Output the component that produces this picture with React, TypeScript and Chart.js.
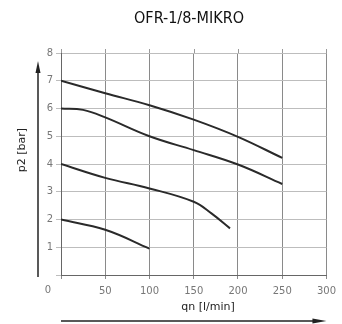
import React, { useEffect, useRef } from "react";
import { Chart, registerables } from "chart.js";

Chart.register(...registerables);

const chartTitle = "OFR-1/8-MIKRO";
const xTitle = "qn [l/min]";
const yTitle = "p2 [bar]";

const curve7x = [0, 50, 100, 150, 200, 250];
const curve7y = [7.0, 6.55, 6.12, 5.6, 4.98, 4.22];
const curve6x = [0, 25, 50, 100, 150, 200, 250];
const curve6y = [6.0, 5.95, 5.68, 5.0, 4.5, 3.98, 3.28];
const curve4x = [0, 50, 100, 150, 170, 191];
const curve4y = [4.0, 3.5, 3.12, 2.64, 2.22, 1.68];
const curve2x = [0, 50, 100];
const curve2y = [2.0, 1.63, 0.95];

const xTicks = [0, 50, 100, 150, 200, 250, 300];
const yTicks = [0, 1, 2, 3, 4, 5, 6, 7, 8];

const toPts = (xs: number[], ys: number[]) => xs.map((x, i) => ({ x, y: ys[i] }));

const decor = {
  id: "decor",
  afterDraw(chart: any) {
    const ctx = chart.ctx as CanvasRenderingContext2D;
    const { scales } = chart;
    const x0 = scales.x.getPixelForValue(0);
    const xMax = scales.x.getPixelForValue(300);
    const yBot = scales.y.getPixelForValue(0);
    const yTop = scales.y.getPixelForValue(8);
    ctx.save();
    // title
    ctx.fillStyle = "#111";
    ctx.font = "16px 'Liberation Sans Narrow', 'DejaVu Sans Condensed', sans-serif";
    ctx.textAlign = "center";
    ctx.textBaseline = "middle";
    ctx.fillText(chartTitle, 189, 19);
    // small ticks above top grid
    ctx.strokeStyle = "#999";
    ctx.lineWidth = 1;
    xTicks.forEach((v) => {
      const px = Math.round(scales.x.getPixelForValue(v)) + 0.5;
      ctx.beginPath();
      ctx.moveTo(px, yTop);
      ctx.lineTo(px, yTop - 4);
      ctx.stroke();
    });
    // origin label
    ctx.fillStyle = "#777";
    ctx.font = "10px 'DejaVu Sans', sans-serif";
    ctx.fillText("0", x0 - 13, yBot + 15);
    // y arrow
    const ax = 38;
    ctx.strokeStyle = "#222";
    ctx.fillStyle = "#222";
    ctx.lineWidth = 1.5;
    ctx.beginPath();
    ctx.moveTo(ax, yBot + 2);
    ctx.lineTo(ax, yTop + 18);
    ctx.stroke();
    ctx.beginPath();
    ctx.moveTo(ax, yTop + 8);
    ctx.lineTo(ax - 2.5, yTop + 20);
    ctx.lineTo(ax + 2.5, yTop + 20);
    ctx.closePath();
    ctx.fill();
    // x arrow
    const ay = 321;
    ctx.beginPath();
    ctx.moveTo(x0, ay);
    ctx.lineTo(xMax - 12, ay);
    ctx.stroke();
    ctx.beginPath();
    ctx.moveTo(xMax, ay);
    ctx.lineTo(xMax - 14, ay - 2.5);
    ctx.lineTo(xMax - 14, ay + 2.5);
    ctx.closePath();
    ctx.fill();
    // axis titles
    ctx.fillStyle = "#222";
    ctx.font = "11px 'DejaVu Sans', sans-serif";
    ctx.textAlign = "center";
    ctx.fillText(xTitle, 208, 307);
    ctx.translate(22, 150);
    ctx.rotate(-Math.PI / 2);
    ctx.fillText(yTitle, 0, 0);
    ctx.restore();
  },
};

export default function App() {
  const ref = useRef<HTMLCanvasElement | null>(null);
  useEffect(() => {
    document.body.style.margin = "0";
    const lineStyle = {
      borderColor: "#2a2a2a",
      borderWidth: 2,
      pointRadius: 0,
      fill: false,
      tension: 0.4,
    };
    const chart = new Chart(ref.current!, {
      type: "line",
      data: {
        datasets: [
          { data: toPts(curve7x, curve7y), ...lineStyle },
          { data: toPts(curve6x, curve6y), ...lineStyle },
          { data: toPts(curve4x, curve4y), ...lineStyle },
          { data: toPts(curve2x, curve2y), ...lineStyle },
        ],
      },
      options: {
        responsive: false,
        animation: false,
        layout: { padding: { top: 53, right: 15, left: 0, bottom: 0 } },
        plugins: { legend: { display: false }, tooltip: { enabled: false } },
        scales: {
          x: {
            type: "linear",
            min: 0,
            max: 300,
            afterFit: (s: any) => {
              s.height = 49;
            },
            afterBuildTicks: (s: any) => {
              s.ticks = xTicks.map((v) => ({ value: v }));
            },
            ticks: {
              color: "#777",
              font: { size: 10, family: "'DejaVu Sans', sans-serif" },
              padding: 6,
              callback: (v: any) => (v === 0 ? "" : String(v)),
              maxRotation: 0,
            },
            grid: { color: "#8a8a8a", lineWidth: 1, tickLength: 4 },
            border: { color: "#666", width: 1 },
          },
          y: {
            type: "linear",
            min: 0,
            max: 8,
            afterFit: (s: any) => {
              s.width = 61;
            },
            afterBuildTicks: (s: any) => {
              s.ticks = yTicks.map((v) => ({ value: v }));
            },
            ticks: {
              color: "#777",
              font: { size: 10, family: "'DejaVu Sans', sans-serif" },
              padding: 3,
              callback: (v: any) => (v === 0 ? "" : String(v)),
            },
            grid: { color: "#bdbdbd", lineWidth: 1, tickLength: 5 },
            border: { color: "#666", width: 1 },
          },
        },
      },
      plugins: [decor],
    });
    return () => chart.destroy();
  }, []);
  return (
    <div style={{ width: 342, height: 324 }}>
      <canvas ref={ref} width={342} height={324} style={{ display: "block" }} />
    </div>
  );
}
